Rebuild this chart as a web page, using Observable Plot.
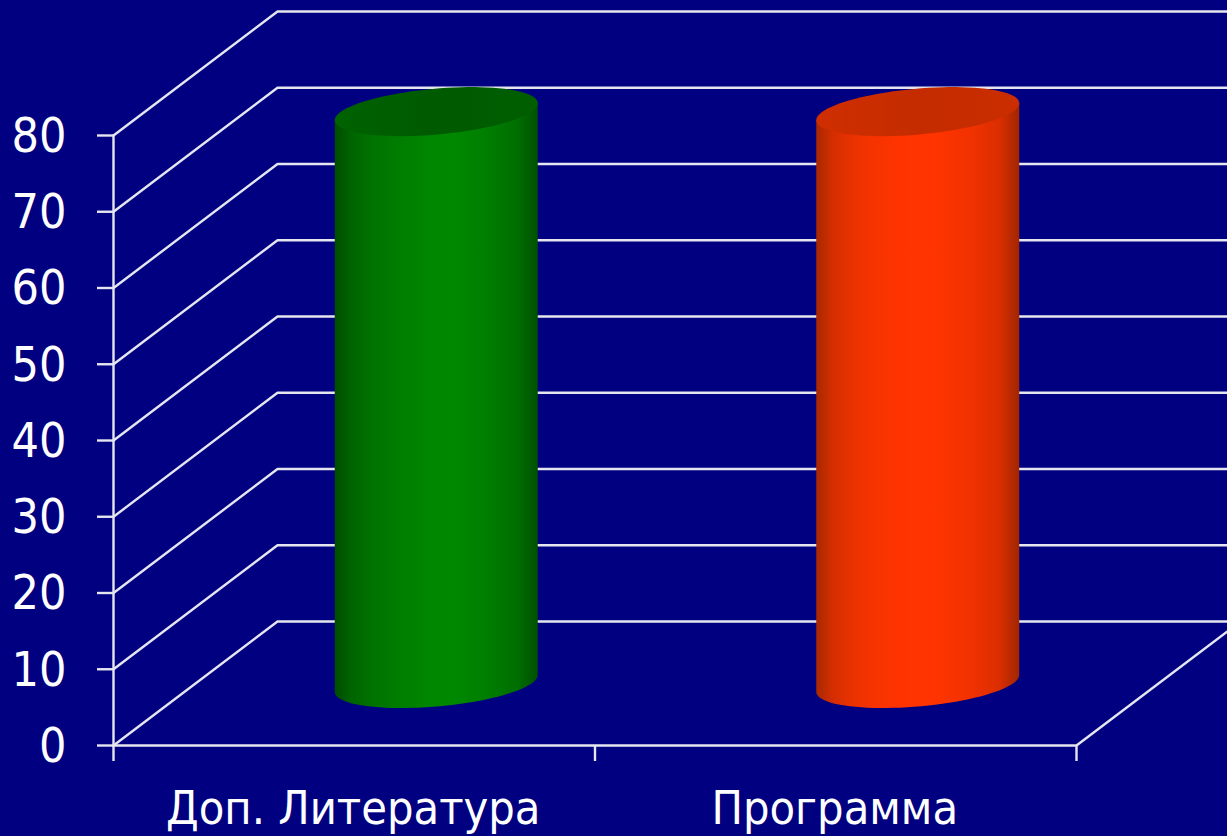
<!DOCTYPE html>
<html><head><meta charset="utf-8">
<script src="https://cdn.jsdelivr.net/npm/d3@7"></script>
<script src="https://cdn.jsdelivr.net/npm/@observablehq/plot@0.6"></script>
<style>
html,body{margin:0;padding:0;background:#000080;overflow:hidden}
svg{display:block}
</style></head><body>
<script>
const categories = ["Доп. Литература", "Программа"];
const values = [75, 75];
const yTicks = [0, 10, 20, 30, 40, 50, 60, 70, 80];
const xEdges = [0, 1, 2];
const sideStops = [
  ["#004c00", "#006400", "#007200", "#007c00", "#008600", "#008800", "#007e00", "#006e00", "#005000"],
  ["#a82800", "#d42e00", "#ea3200", "#f83300", "#ff3400", "#ff3400", "#f23200", "#dc2e00", "#a02600"]
];
const capColors = [["#006200", "#005a00", "#005e00"], ["#d02e00", "#c42c00", "#ca2d00"]];
const stopOffsets = [0, .08, .18, .3, .45, .58, .75, .9, 1];

const depthX = 164 / 481.5, depthY = 124 / 7.625;
const semiX = 101.5 / 481.5, tiltY = 8.5 / 7.625, semiY = 23 / 7.625;
const ink = "#e6e6f0";

const gridRows = yTicks.flatMap(t => [
  {t, x: 0, y: t}, {t, x: depthX, y: t + depthY}, {t, x: 2 + depthX, y: t + depthY}
]);
const frameRows = [
  {k: "wall", x: 0, y: 0}, {k: "wall", x: 0, y: 80},
  {k: "floor", x: 0, y: 0}, {k: "floor", x: 2, y: 0}, {k: "floor", x: 2 + depthX, y: depthY}
];
const angles = d3.range(0, 361, 4).map(d => d * Math.PI / 180);
const center = i => ({x: i + .5 + depthX / 2, y: depthY / 2});
const rim = (i, v, a) => ({
  x: center(i).x + semiX * Math.cos(a),
  y: center(i).y + v + tiltY * Math.cos(a) - semiY * Math.sin(a)
});
const bodyPath = i => [
  rim(i, values[i], Math.PI), rim(i, values[i], 0),
  ...angles.filter(a => a <= Math.PI).map(a => rim(i, 0, a))
];
const capPath = i => angles.map(a => rim(i, values[i], a));

function gradients() {
  const defs = d3.create("svg:defs");
  categories.forEach((_, i) => {
    const g = defs.append("linearGradient").attr("id", "side" + i);
    sideStops[i].forEach((c, j) => g.append("stop").attr("offset", stopOffsets[j]).attr("stop-color", c));
    const h = defs.append("linearGradient").attr("id", "cap" + i);
    capColors[i].forEach((c, j) => h.append("stop").attr("offset", j / 2).attr("stop-color", c));
  });
  return defs.node();
}

const chart = Plot.plot({
  width: 1227, height: 836,
  marginLeft: 113, marginRight: 151, marginTop: 135, marginBottom: 91,
  style: {background: "#000080", color: "#ffffff", fontFamily: "'DejaVu Sans Condensed','DejaVu Sans',sans-serif", overflow: "hidden"},
  x: {domain: [0, 2]},
  y: {domain: [0, 80]},
  marks: [
    gradients,
    Plot.line(gridRows, {x: "x", y: "y", z: "t", stroke: ink, strokeWidth: 2.4, strokeLinejoin: "miter"}),
    Plot.line(frameRows, {x: "x", y: "y", z: "k", stroke: ink, strokeWidth: 2.4, strokeLinejoin: "miter"}),
    Plot.axisY({ticks: yTicks, tickSize: 16, tickFormat: () => "", label: null, stroke: ink, strokeWidth: 2.4}),
    Plot.axisX({ticks: xEdges, tickSize: 16, tickFormat: () => "", label: null, stroke: ink, strokeWidth: 2.4}),
    ...categories.flatMap((_, i) => [
      Plot.line(bodyPath(i), {x: "x", y: "y", fill: `url(#side${i})`, stroke: "none"}),
      Plot.line(capPath(i), {x: "x", y: "y", fill: `url(#cap${i})`, stroke: "none"})
    ]),
    Plot.text(yTicks, {x: () => 0, y: d => d, text: d => String(d), dx: -47, dy: 1, textAnchor: "end", fontSize: 48, fill: "#ffffff"}),
    Plot.text(categories, {x: (_, i) => i + .5, y: () => 0, dx: -1, dy: 64, text: d => d, fontSize: 46.5, fill: "#ffffff"})
  ]
});
document.body.appendChild(chart);
</script>
</body></html>
